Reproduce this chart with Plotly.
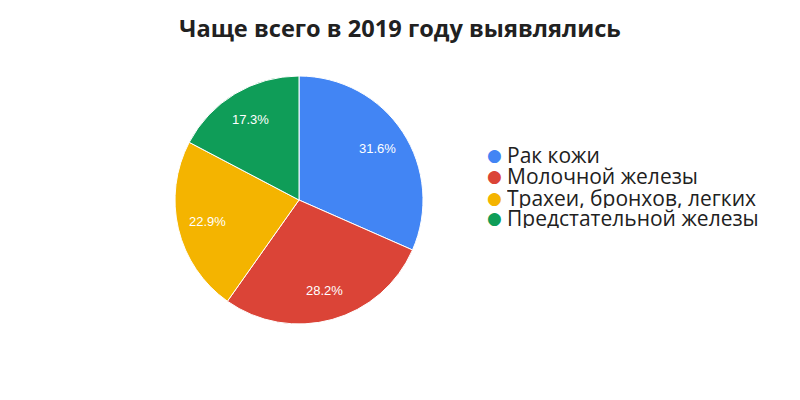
import math
import plotly.graph_objects as go

title = "Чаще всего в 2019 году выявлялись"
labels = ["Рак кожи", "Молочной железы", "Трахеи, бронхов, легких", "Предстательной железы"]
values = [31.6, 28.2, 22.9, 17.3]
colors = ["#4285F4", "#DB4437", "#F4B400", "#0F9D58"]

W, H = 800, 400
# pie placement (pixels)
cx, cy, r = 299, 200, 124

fig = go.Figure()

fig.add_trace(go.Pie(
    labels=labels,
    values=values,
    sort=False,
    direction="clockwise",
    rotation=0,
    marker=dict(colors=colors, line=dict(color="#ffffff", width=1)),
    textinfo="none",
    showlegend=False,
    hoverinfo="label+percent",
    domain=dict(x=[(cx - r) / W, (cx + r) / W], y=[(H - cy - r) / H, (H - cy + r) / H]),
))

# percent labels inside the slices, at the middle angle of each slice
total = sum(values)
start = 0.0
for v in values:
    frac = v / total
    mid = (start + frac / 2) * 2 * math.pi
    start += frac
    fig.add_annotation(
        x=(cx + 0.76 * r * math.sin(mid)) / W,
        y=(H - cy + 0.76 * r * math.cos(mid)) / H,
        xref="paper", yref="paper",
        text=f"{frac:.1%}",
        showarrow=False,
        xanchor="center", yanchor="middle",
        font=dict(family="Liberation Sans, Arial", size=13, color="#ffffff"),
    )

# legend (round markers, tight rows)
leg_x, leg_y, leg_step = 494, 155, 21
for i, (name, c) in enumerate(zip(labels, colors)):
    y = (H - leg_y - i * leg_step) / H
    fig.add_annotation(
        x=leg_x / W, y=y, xref="paper", yref="paper",
        text="●", showarrow=False,
        xanchor="center", yanchor="middle",
        height=leg_step, borderpad=0,
        font=dict(family="DejaVu Sans", size=17, color=c),
    )
    fig.add_annotation(
        x=(leg_x + 12) / W, y=y, xref="paper", yref="paper",
        text=name, showarrow=False,
        xanchor="left", yanchor="middle",
        height=leg_step, borderpad=0,
        font=dict(family="Open Sans", size=21, color="#212121"),
    )

fig.update_layout(
    width=W,
    height=H,
    margin=dict(l=0, r=0, t=0, b=0),
    paper_bgcolor="#ffffff",
    plot_bgcolor="#ffffff",
    title=dict(
        text="<b>" + title + "</b>",
        x=0.5, xanchor="center",
        y=1 - 29 / H, yanchor="middle",
        font=dict(family="Open Sans", size=23.6, color="#212121"),
    ),
)

fig.write_html("out.html", config={"displayModeBar": False},
               post_script="document.body.style.margin='0';")
